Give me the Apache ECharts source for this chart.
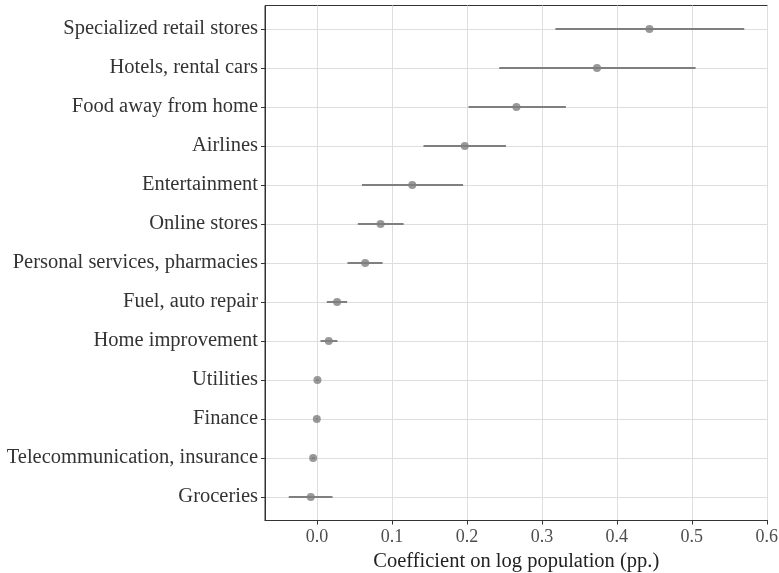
<!DOCTYPE html>
<html><head><meta charset="utf-8">
<script src="https://cdn.jsdelivr.net/npm/echarts@6/dist/echarts.min.js"></script>
<style>html,body{margin:0;padding:0;background:#fff}#c{width:779px;height:573px}</style>
</head><body><div id="c"></div>
<script>
const categories = ["Groceries","Telecommunication, insurance","Finance","Utilities","Home improvement","Fuel, auto repair","Personal services, pharmacies","Online stores","Entertainment","Airlines","Food away from home","Hotels, rental cars","Specialized retail stores"];
const estimates = [-0.0084,-0.0053,-0.0004,0.0005,0.0156,0.0267,0.0642,0.0847,0.127,0.197,0.266,0.3735,0.4435];
const lowerCI = [-0.0378,-0.0075,-0.0015,-0.0010,0.0045,0.013,0.0406,0.0544,0.0598,0.142,0.202,0.243,0.318];
const upperCI = [0.0206,-0.0031,0.0007,0.0020,0.0272,0.0401,0.0874,0.1155,0.1948,0.252,0.332,0.505,0.570];
const xTicks = [0, 0.1, 0.2, 0.3, 0.4, 0.5, 0.6];
const yTicks = categories.map((c, i) => i);

const FONT = "'Liberation Serif', serif";
const chart = echarts.init(document.getElementById('c'), null, {renderer: 'canvas'});
chart.setOption({
  animation: false,
  backgroundColor: '#fff',
  grid: {left: 265, right: 11.5, top: 5.5, bottom: 52.5, outerBoundsMode: 'none', containLabel: false, show: true, borderColor: '#333', borderWidth: 1, backgroundColor: 'transparent'},
  xAxis: {
    type: 'value', min: -0.0695, max: 0.601,
    axisLine: {show: true, onZero: false, lineStyle: {color: '#333', width: 1}},
    axisTick: {show: true, customValues: xTicks, length: 4, lineStyle: {color: '#333'}},
    axisLabel: {customValues: xTicks, formatter: v => v.toFixed(1), fontFamily: FONT, fontSize: 18, color: '#4d4d4d', margin: 8},
    splitLine: {show: true, lineStyle: {color: '#dedede', width: 1}},
    name: 'Coefficient on log population (pp.)', nameLocation: 'middle', nameGap: 29,
    nameTextStyle: {fontFamily: FONT, fontSize: 20.5, color: '#222'}
  },
  yAxis: {
    type: 'value', min: -0.6, max: 12.6,
    axisLine: {show: true, onZero: false, lineStyle: {color: '#333', width: 1}},
    axisTick: {show: true, customValues: yTicks, length: 4, lineStyle: {color: '#333'}},
    axisLabel: {customValues: yTicks, formatter: v => categories[Math.round(v)], fontFamily: FONT, fontSize: 20.5, color: '#333', margin: 7},
    splitLine: {show: true, lineStyle: {color: '#dedede', width: 1}}
  },
  series: [
    {
      type: 'custom',
      data: categories.map((c, i) => [i, lowerCI[i], upperCI[i]]),
      encode: {x: [1, 2], y: 0},
      renderItem: function (params, api) {
        const a = api.coord([api.value(1), api.value(0)]);
        const b = api.coord([api.value(2), api.value(0)]);
        return {type: 'line', shape: {x1: a[0], y1: a[1], x2: b[0], y2: b[1]}, style: {stroke: '#7f7f7f', lineWidth: 2}};
      },
      z: 3
    },
    {
      type: 'scatter',
      data: categories.map((c, i) => [estimates[i], i]),
      symbol: 'circle', symbolSize: 8,
      itemStyle: {color: '#7f7f7f'},
      z: 4
    }
  ]
});
</script></body></html>
